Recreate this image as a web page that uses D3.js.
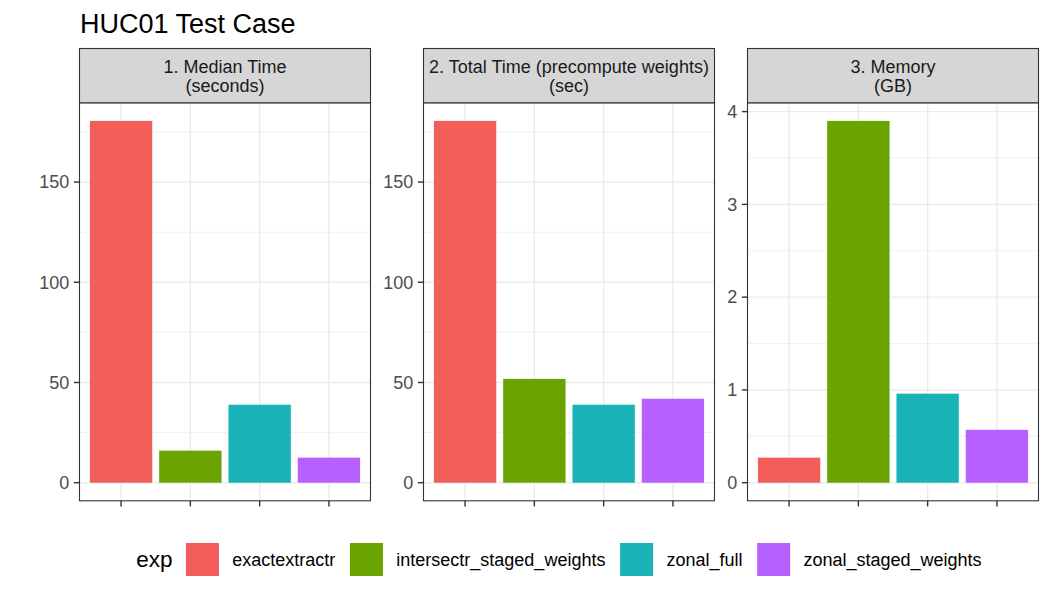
<!DOCTYPE html>
<html>
<head>
<meta charset="utf-8">
<script src="https://cdn.jsdelivr.net/npm/d3@7"></script>
<style>
  html, body { margin: 0; padding: 0; background: #fff; }
  svg { display: block; font-family: "Liberation Sans", Arial, Helvetica, sans-serif; }
</style>
</head>
<body>
<svg id="chart" width="1050" height="600"></svg>
<script>
// ---------------- data ----------------
const categories = ["exactextractr", "intersectr_staged_weights", "zonal_full", "zonal_staged_weights"];
const colors = ["#F35E5A", "#6BA300", "#19B2B7", "#B85FFF"];
const panelTitles = [
  ["1. Median Time", "(seconds)"],
  ["2. Total Time (precompute weights)", "(sec)"],
  ["3. Memory", "(GB)"]
];
const medianTime = [180.5, 16.0, 38.9, 12.5];
const totalTime = [180.5, 51.8, 38.9, 41.9];
const memoryGB = [0.27, 3.90, 0.96, 0.57];
const ticksTime = [0, 50, 100, 150];
const ticksMemory = [0, 1, 2, 3, 4];
const chartTitle = "HUC01 Test Case";
const legendTitle = "exp";

// ---------------- layout ----------------
const W = 1050, H = 600;
const panelLefts = [79.5, 423.5, 747.5];
const panelW = 291;
const stripTop = 48.5, stripBottom = 102.8, panelBottom = 500.8;
const panels = [
  { values: medianTime, ticks: ticksTime },
  { values: totalTime, ticks: ticksTime },
  { values: memoryGB, ticks: ticksMemory }
];

const svg = d3.select("#chart");

// title
svg.append("text")
  .attr("x", 80).attr("y", 33)
  .attr("font-size", 27).attr("fill", "#000")
  .text(chartTitle);

panels.forEach((p, i) => {
  const x0 = panelLefts[i];
  const g = svg.append("g").attr("transform", `translate(${x0},0)`);

  const x = d3.scaleBand().domain(categories).range([0, panelW])
    .paddingInner(0.1).paddingOuter(0.15);
  const hi = d3.max(p.values);
  const pad = hi * 0.05;
  const y = d3.scaleLinear().domain([-pad, hi + pad]).range([panelBottom, stripBottom]);

  const step = p.ticks[1] - p.ticks[0];
  const minor = p.ticks.map(t => t + step / 2).filter(t => t < hi + pad);

  // panel background
  g.append("rect").attr("x", 0).attr("y", stripBottom).attr("width", panelW)
    .attr("height", panelBottom - stripBottom).attr("fill", "#fff");

  // minor grid
  g.selectAll(".minor").data(minor).join("line")
    .attr("x1", 0).attr("x2", panelW)
    .attr("y1", d => y(d)).attr("y2", d => y(d))
    .attr("stroke", "#EBEBEB").attr("stroke-width", 0.7);
  // major grid y
  g.selectAll(".majory").data(p.ticks).join("line")
    .attr("x1", 0).attr("x2", panelW)
    .attr("y1", d => y(d)).attr("y2", d => y(d))
    .attr("stroke", "#EBEBEB").attr("stroke-width", 1.4);
  // major grid x
  g.selectAll(".majorx").data(categories).join("line")
    .attr("x1", d => x(d) + x.bandwidth() / 2).attr("x2", d => x(d) + x.bandwidth() / 2)
    .attr("y1", stripBottom).attr("y2", panelBottom)
    .attr("stroke", "#EBEBEB").attr("stroke-width", 1.4);

  // bars
  g.selectAll(".bar").data(p.values).join("rect")
    .attr("x", (d, j) => x(categories[j]))
    .attr("width", x.bandwidth())
    .attr("y", d => y(d))
    .attr("height", d => y(0) - y(d))
    .attr("fill", (d, j) => colors[j]);

  // panel border
  g.append("rect").attr("x", 0).attr("y", stripBottom).attr("width", panelW)
    .attr("height", panelBottom - stripBottom)
    .attr("fill", "none").attr("stroke", "#333333").attr("stroke-width", 1.1);

  // strip
  g.append("rect").attr("x", 0).attr("y", stripTop).attr("width", panelW)
    .attr("height", stripBottom - stripTop)
    .attr("fill", "#D6D6D6").attr("stroke", "#333333").attr("stroke-width", 1.1);
  const st = g.append("text").attr("text-anchor", "middle")
    .attr("font-size", 18).attr("fill", "#1A1A1A");
  panelTitles[i].forEach((line, k) => {
    st.append("tspan").attr("x", panelW / 2).attr("y", 73.3 + k * 18.4).text(line);
  });

  // y axis ticks & labels
  g.selectAll(".ytick").data(p.ticks).join("line")
    .attr("x1", -5.6).attr("x2", 0)
    .attr("y1", d => y(d)).attr("y2", d => y(d))
    .attr("stroke", "#333333").attr("stroke-width", 1.4);
  g.selectAll(".ylab").data(p.ticks).join("text")
    .attr("x", -10.2).attr("y", d => y(d)).attr("dy", "0.35em")
    .attr("text-anchor", "end").attr("font-size", 18).attr("fill", "#4D4D4D")
    .text(d => d);

  // x axis ticks
  g.selectAll(".xtick").data(categories).join("line")
    .attr("x1", d => x(d) + x.bandwidth() / 2).attr("x2", d => x(d) + x.bandwidth() / 2)
    .attr("y1", panelBottom).attr("y2", panelBottom + 5.6)
    .attr("stroke", "#333333").attr("stroke-width", 1.4);
});

// ---------------- legend ----------------
const legendCy = 559.5, keySize = 33;
const lg = svg.append("g");
const titleEl = lg.append("text").attr("font-size", 22.5).attr("fill", "#000")
  .attr("y", legendCy).attr("dy", "0.35em").text(legendTitle);
const labelEls = categories.map(c => lg.append("text").attr("font-size", 18).attr("fill", "#000")
  .attr("y", legendCy).attr("dy", "0.35em").text(c));
const titleW = titleEl.node().getComputedTextLength();
const labelWs = labelEls.map(e => e.node().getComputedTextLength());
const gapTitle = 13.3, gapKey = 13.3, gapItem = 14.7;
const totalW = titleW + gapTitle + d3.sum(labelWs) + categories.length * (keySize + gapKey) + (categories.length - 1) * gapItem;
const center = (panelLefts[0] + panelLefts[2] + panelW) / 2;
let cx = center - totalW / 2;
titleEl.attr("x", cx);
cx += titleW + gapTitle;
categories.forEach((c, j) => {
  lg.append("rect").attr("x", cx).attr("y", legendCy - keySize / 2)
    .attr("width", keySize).attr("height", keySize).attr("fill", colors[j]);
  cx += keySize + gapKey;
  labelEls[j].attr("x", cx);
  cx += labelWs[j] + gapItem;
});
</script>
</body>
</html>
